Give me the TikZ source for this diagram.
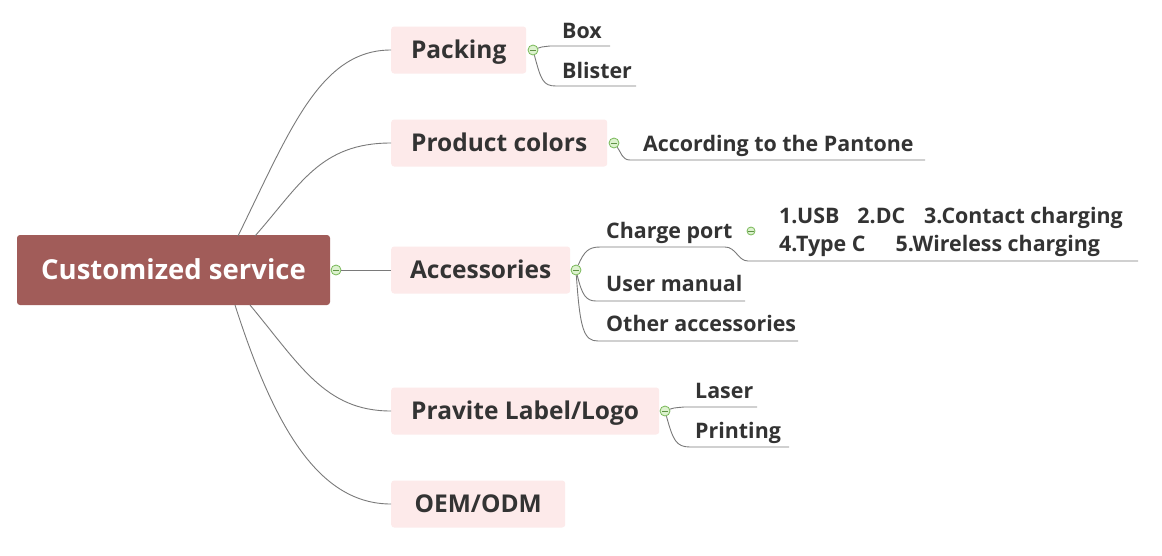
\documentclass[tikz,border=0pt]{standalone}
\usepackage{fontspec}
\setmainfont{Open Sans}
\definecolor{rootc}{HTML}{A15C59}
\definecolor{boxc}{HTML}{FDEAEA}
\definecolor{txt}{HTML}{333333}
\definecolor{ln}{HTML}{7A7A7A}
\definecolor{tog}{HTML}{78B858}
\definecolor{togf}{HTML}{DDF2CF}
\begin{document}
\begin{tikzpicture}[x=1pt,y=-1pt]
\tikzset{
 rootbox/.style={fill=rootc, rounded corners=3pt, minimum width=313pt, minimum height=70pt, text=white, font=\fontsize{27.5}{32}\selectfont\bfseries, inner sep=0pt, text height=24pt, text depth=4.4pt},
 mainbox/.style={fill=boxc, rounded corners=3pt, minimum height=47pt, text=txt, font=\fontsize{24.5}{29}\selectfont\bfseries, anchor=west, inner sep=0pt, text height=22pt, text depth=4.5pt},
 subtext/.style={text=txt, font=\fontsize{21.4}{25}\selectfont\bfseries, anchor=base west, inner sep=0pt},
 toggle/.style={circle, draw=tog, fill=togf, minimum size=10pt, inner sep=0pt, line width=0.8pt, path picture={\draw[tog!80!black, line width=0.8pt] ([xshift=-2.6pt]path picture bounding box.center) -- ([xshift=2.6pt]path picture bounding box.center);}},
 smalltoggle/.style={toggle, minimum size=8pt},
 conn/.style={draw=ln, line width=0.9pt},
}
\useasboundingbox[fill=white] (0,0) rectangle (1162,555);

% root and main boxes
\node[rootbox] (root) at (173.5,270) {Customized service};
\node[toggle] (troot) at (336,270) {};
\node[mainbox, minimum width=135pt] (pk) at (391,50) {Packing};
\node[mainbox, minimum width=216pt] (pc) at (391,143) {Product colors};
\node[mainbox, minimum width=179pt] (ac) at (391,270) {Accessories};
\node[mainbox, minimum width=268pt] (pl) at (391,411) {Pravite Label/Logo};
\node[mainbox, minimum width=174pt] (oem) at (391,504) {OEM/ODM};

% root connectors
\coordinate (r1) at (238,236);
\coordinate (r2) at (255,236);
\coordinate (r3) at (235,305);
\coordinate (r4) at (250,305);
\draw[conn] (r1) .. controls (290,130) and (320,50) .. (pk.west);
\draw[conn] (r2) .. controls (300,185) and (320,143) .. (pc.west);
\draw[conn] (troot) -- (ac.west);
\draw[conn] (r4) .. controls (300,365) and (325,411) .. (pl.west);
\draw[conn] (r3) .. controls (275,430) and (320,504) .. (oem.west);

% toggles of main boxes
\node[toggle] (tpk) at (533,50) {};
\node[toggle] (tpc) at (614,143) {};
\node[toggle] (tac) at (576,270) {};
\node[toggle] (tpl) at (665,411) {};

% Packing children
\node[subtext] (box) at (562,38) {Box};
\node[subtext] (blister) at (562,78) {Blister};
\coordinate (boxa) at (550,46); \coordinate (boxb) at (610,46);
\coordinate (blia) at (556,86); \coordinate (blib) at (636,86);
\draw[conn] (tpk) .. controls (541,47) .. (boxa) -- (boxb);
\draw[conn] (tpk) .. controls (541,80) and (543,86) .. (blia) -- (blib);

% Product colors child
\node[subtext] (pant) at (643,151) {According to the Pantone};
\coordinate (pana) at (630,160); \coordinate (panb) at (925,160);
\draw[conn] (tpc) .. controls (621,152) and (622,160) .. (pana) -- (panb);

% Accessories children
\node[subtext] (cport) at (606,238) {Charge port};
\node[smalltoggle] (tcp) at (751,231) {};
\node[subtext] (cl1) at (779,223) {1.USB\hspace{18pt}2.DC\hspace{19pt}3.Contact charging};
\node[subtext] (cl2) at (779,251) {4.Type C\hspace{30pt}5.Wireless charging};
\node[subtext] (umanual) at (606,291) {User manual};
\node[subtext] (other) at (606,331) {Other accessories};
\coordinate (cpa) at (600,247); \coordinate (cpb) at (725,247);
\coordinate (cpc) at (748,261); \coordinate (cpd) at (1138,261);
\coordinate (uma) at (596,301); \coordinate (umb) at (745,301);
\coordinate (ota) at (598,341); \coordinate (otb) at (798,341);
\draw[conn] (tac) .. controls (584,252) and (588,247) .. (cpa) -- (cpb) .. controls (736,247) and (738,261) .. (cpc) -- (cpd);
\draw[conn] (tac) .. controls (582,295) and (586,301) .. (uma) -- (umb);
\draw[conn] (tac) .. controls (580,330) and (584,341) .. (ota) -- (otb);

% Pravite Label/Logo children
\node[subtext] (laser) at (695,398) {Laser};
\node[subtext] (print) at (695,438) {Printing};
\coordinate (laa) at (684,407); \coordinate (lab) at (757,407);
\coordinate (pra) at (690,447); \coordinate (prb) at (789,447);
\draw[conn] (tpl) .. controls (673,408) .. (laa) -- (lab);
\draw[conn] (tpl) .. controls (673,440) and (676,447) .. (pra) -- (prb);
\end{tikzpicture}
\end{document}
